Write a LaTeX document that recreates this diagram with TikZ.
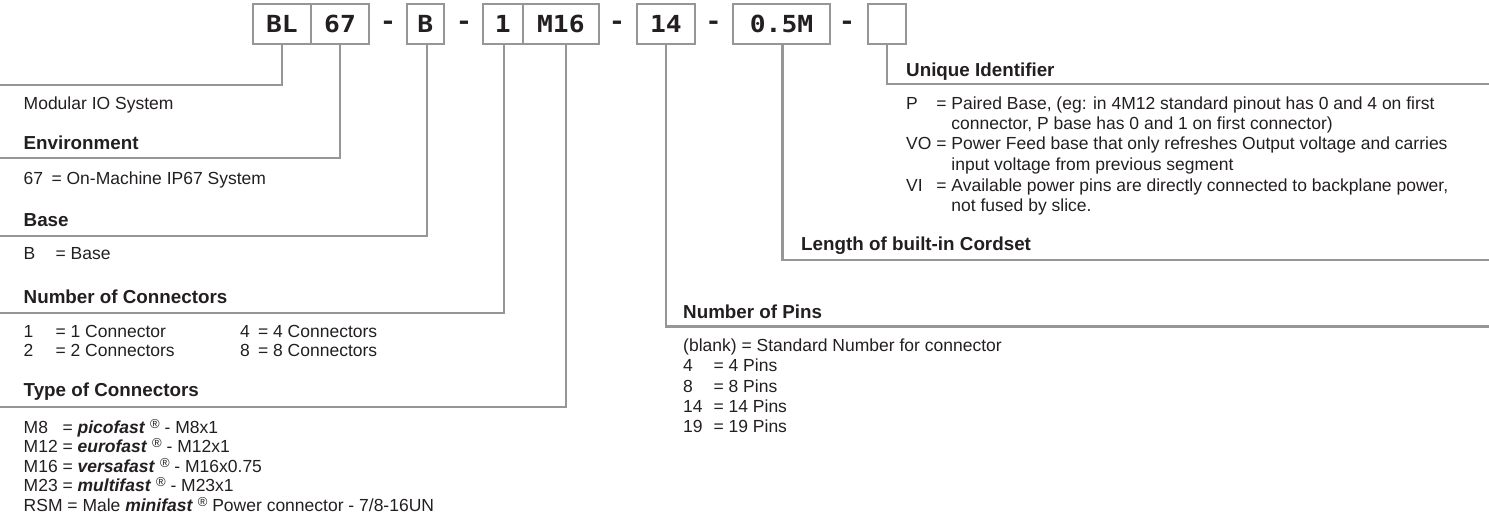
\documentclass[tikz,border=0pt]{standalone}
\usepackage{fontspec}
\usepackage{calc}
\setmainfont{Liberation Sans}
\newfontfamily\codefont{DejaVu Sans Mono}[FakeStretch=1.12]
\definecolor{ln}{RGB}{150,150,150}
\definecolor{tx}{RGB}{35,31,32}
\newcommand{\keycol}[2]{\makebox[#1][l]{#2}}
\newcommand{\brand}[1]{\textbf{\textit{#1}} \raisebox{0.55ex}{\fontsize{13}{13}\selectfont ®}}
\tikzset{
  codebox/.style={draw=ln, line width=2pt, minimum height=39.5pt, inner sep=0pt, text=tx,
    font=\codefont\bfseries\fontsize{23.5}{24}\selectfont},
  dashtxt/.style={inner sep=0pt, text=tx, font=\codefont\bfseries\fontsize{23.5}{24}\selectfont},
  conn/.style={draw=ln, line width=2.2pt},
  txt/.style={anchor=west, inner sep=0pt, text=tx, text height=12.5pt, text depth=0pt,
    font=\fontsize{17.5}{20}\selectfont},
  hd/.style={anchor=west, inner sep=0pt, text=tx, text height=13.5pt, text depth=0pt,
    font=\bfseries\fontsize{18.8}{22}\selectfont}
}
\begin{document}
\begin{tikzpicture}[x=1pt,y=-1pt]
\useasboundingbox (0,0) rectangle (1489,519);
% code boxes
\node[codebox, minimum width=58.3pt] (bl)  at (281.85,24.25) {BL};
\node[codebox, minimum width=58pt]   (n67) at (340,24.25) {67};
\node[dashtxt] (d1) at (388,25) {-};
\node[codebox, minimum width=37.3pt] (nb)  at (425.35,24.25) {B};
\node[dashtxt] (d2) at (464,25) {-};
\node[codebox, minimum width=39.7pt] (n1)  at (502.85,24.25) {1};
\node[codebox, minimum width=76.3pt] (nm)  at (560.85,24.25) {M16};
\node[dashtxt] (d3) at (617,25) {-};
\node[codebox, minimum width=58.3pt] (n14) at (665.85,24.25) {14};
\node[dashtxt] (d4) at (713.5,25) {-};
\node[codebox, minimum width=97pt]   (nl)  at (781.5,24.25) {0.5M};
\node[dashtxt] (d5) at (847,25) {-};
\node[codebox, minimum width=37.7pt] (nu)  at (886.85,24.25) {};
% connector ends
\coordinate (eBL) at (0,85);
\coordinate (e67) at (0,158.3);
\coordinate (eB)  at (0,236);
\coordinate (e1)  at (0,312.7);
\coordinate (eM)  at (0,406.7);
\coordinate (e14) at (1489,326.5);
\coordinate (eL)  at (1489,260);
\coordinate (eU)  at (1489,84.3);
\draw[conn] (bl.south) |- (eBL);
\draw[conn] (n67.south) |- (e67);
\draw[conn] ([xshift=2pt]nb.south) |- (eB);
\draw[conn] ([xshift=1pt]n1.south) |- (e1);
\draw[conn] ([xshift=5pt]nm.south) |- (eM);
\draw[conn] (n14.south) |- (e14);
\draw[conn] ([xshift=1pt]nl.south) |- (eL);
\draw[conn] (nu.south) |- (eU);
% left texts
\node[txt] (t0) at (23.5,103.5) {Modular IO System};
\node[hd]  (h1) at (23.5,142.7) {Environment};
\node[txt] (t1) at (23.5,178.3) {\keycol{23pt}{67} = On-Machine IP67 System};
\node[hd]  (h2) at (23.5,220) {Base};
\node[txt] (t2) at (23.5,253.3) {\keycol{27pt}{B} = Base};
\node[hd]  (h3) at (23.5,296.7) {Number of Connectors};
\node[txt] (c1) at (23.5,331) {\keycol{27pt}{1} = 1 Connector};
\node[txt] (c2) at (23.5,350) {\keycol{27pt}{2} = 2 Connectors};
\node[txt] (c4) at (240,331) {\keycol{13pt}{4} = 4 Connectors};
\node[txt] (c8) at (240,350) {\keycol{13pt}{8} = 8 Connectors};
\node[hd]  (h4) at (23.5,390) {Type of Connectors};
\node[txt] (m8)  at (23.5,427)   {\keycol{\widthof{M12}}{M8} = \brand{picofast} - M8x1};
\node[txt] (m12) at (23.5,446.5) {\keycol{\widthof{M12}}{M12} = \brand{eurofast} - M12x1};
\node[txt] (m16) at (23.5,466)   {\keycol{\widthof{M12}}{M16} = \brand{versafast} - M16x0.75};
\node[txt] (m23) at (23.5,485.5) {\keycol{\widthof{M12}}{M23} = \brand{multifast} - M23x1};
\node[txt] (rsm) at (23.5,505)   {RSM = Male \brand{minifast} Power connector - 7/8-16UN};
% right texts
\node[hd]  (h5) at (906,70) {Unique Identifier};
\node[txt] (u1) at (906,103.3) {\keycol{\widthof{VO}}{P} = Paired Base, (eg: in 4M12 standard pinout has 0 and 4 on first};
\node[txt] (u2) at (906,123.3) {\hphantom{VO = }connector, P base has 0 and 1 on first connector)};
\node[txt] (u3) at (906,143.5) {VO = Power Feed base that only refreshes Output voltage and carries};
\node[txt] (u4) at (906,164.3) {\hphantom{VO = }input voltage from previous segment};
\node[txt] (u5) at (906,185)   {\keycol{\widthof{VO}}{VI} = Available power pins are directly connected to backplane power,};
\node[txt] (u6) at (906,205)   {\hphantom{VO = }not fused by slice.};
\node[hd]  (h6) at (801,243.5) {Length of built-in Cordset};
\node[hd]  (h7) at (683,311.7) {Number of Pins};
\node[txt] (p0) at (683,345.5) {(blank) = Standard Number for connector};
\node[txt] (p4) at (683,365.5) {\keycol{25.5pt}{4} = 4 Pins};
\node[txt] (p8) at (683,386)   {\keycol{25.5pt}{8} = 8 Pins};
\node[txt] (p14) at (683,406.5) {\keycol{25.5pt}{14} = 14 Pins};
\node[txt] (p19) at (683,426.7) {\keycol{25.5pt}{19} = 19 Pins};
\end{tikzpicture}
\end{document}
